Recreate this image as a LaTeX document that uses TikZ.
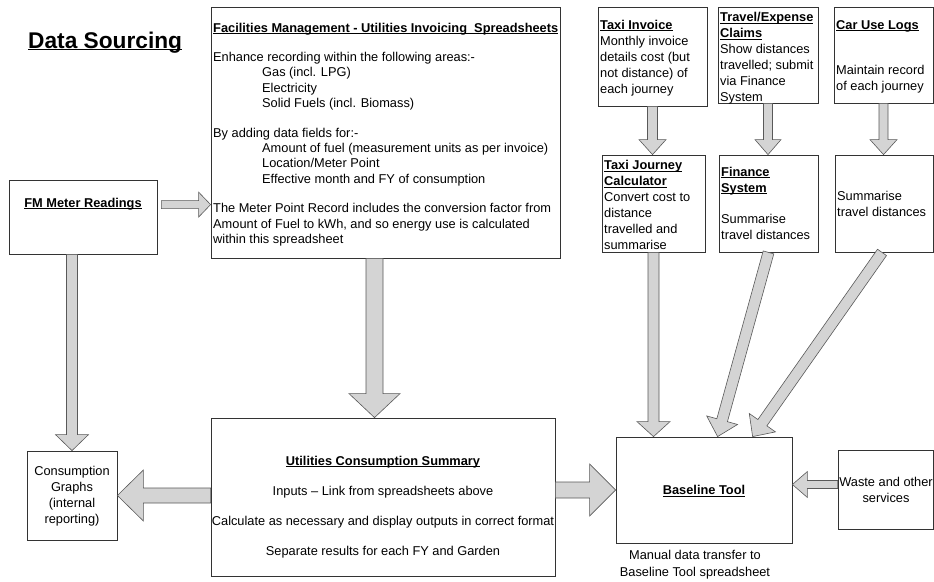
\documentclass[tikz,border=0pt]{standalone}
\usepackage{fontspec}
\setmainfont{Liberation Sans}
\usetikzlibrary{calc,fit}
\newcommand{\uln}[1]{\setbox0\hbox{#1}\rlap{\rule[-1.6pt]{\wd0}{0.8pt}}\box0}
\newcommand{\ubf}[1]{\uln{\textbf{#1}}}
\newcommand{\blockarrow}[5]{%
  \path[arrowfill] let \p1=(#1), \p2=(#2),
    \n1={atan2(\y2-\y1,\x2-\x1)}, \n2={veclen(\x2-\x1,\y2-\y1)} in
    {[shift={(\p1)}, rotate=\n1]
     (0pt,-#3pt) -- ({(\n2-#5)*1pt},-#3pt) -- ({(\n2-#5)*1pt},-#4pt) --
     ({\n2*1pt},0pt) -- ({(\n2-#5)*1pt},#4pt) -- ({(\n2-#5)*1pt},#3pt) --
     (0pt,#3pt) -- cycle};}
\tikzset{
  box/.style={draw=black!80, line width=0.8pt, inner sep=0pt, fill=white},
  arrowfill/.style={draw=black!65, fill=black!17, line width=0.6pt, line join=miter},
  txt/.style={inner sep=0pt, align=left, anchor=north west, font=\fontsize{12.8}{16}\selectfont},
  ctxt/.style={inner sep=0pt, align=center, font=\fontsize{12.8}{15.2}\selectfont},
}
\begin{document}
\begin{tikzpicture}[x=1pt,y=-1pt]
\useasboundingbox[fill=white] (0,0) rectangle (934,581);
% boxes
\node[box, fit={(211,7) (560,258)}] (fm) {};
\node[box, fit={(9,180) (157,254)}] (meter) {};
\node[box, fit={(27,451) (117,540)}] (graphs) {};
\node[box, fit={(211,418) (555,576)}] (ucs) {};
\node[box, fit={(616,437) (792,543)}] (baseline) {};
\node[box, fit={(838,450) (933.5,529)}] (waste) {};
\node[box, fit={(598,7) (707,106)}] (taxi) {};
\node[box, fit={(718,7) (818,103)}] (travel) {};
\node[box, fit={(834,7) (933,103)}] (car) {};
\node[box, fit={(602,155) (705,252)}] (taxicalc) {};
\node[box, fit={(719,155) (818,252)}] (finance) {};
\node[box, fit={(835,155) (933,252)}] (carsum) {};
% texts
\node[inner sep=0pt, anchor=base west, font=\fontsize{22.7}{26}\selectfont] (title) at (28,48)
  {\uln{\textbf{Data Sourcing}}};
\node[txt, font=\fontsize{12.8}{15.4}\selectfont] (fmtext) at (213,22.7) {%
  \ubf{Facilities Management - Utilities Invoicing\ \ Spreadsheets}\\[14pt]
  Enhance recording within the following areas:-\\
  \hspace*{49pt}Gas (incl. LPG)\\
  \hspace*{49pt}Electricity\\
  \hspace*{49pt}Solid Fuels (incl. Biomass)\\[14pt]
  By adding data fields for:-\\
  \hspace*{49pt}Amount of fuel (measurement units as per invoice)\\
  \hspace*{49pt}Location/Meter Point\\
  \hspace*{49pt}Effective month and FY of consumption\\[14pt]
  The Meter Point Record includes the conversion factor from\\
  Amount of Fuel to kWh, and so energy use is calculated\\
  within this spreadsheet};
\node[ctxt] (metertext) at (83,204) {\ubf{FM Meter Readings}};
\node[ctxt, font=\fontsize{12.8}{16}\selectfont] (graphstext) at (72,496)
  {Consumption\\Graphs\\(internal\\reporting)};
\node[ctxt] (ucstext) at (383,507) {%
  \ubf{Utilities Consumption Summary}\\[15pt]
  Inputs -- Link from spreadsheets above\\[15pt]
  Calculate as necessary and display outputs in correct format\\[15pt]
  Separate results for each FY and Garden};
\node[ctxt] (baselinetext) at (704,491) {\ubf{Baseline Tool}};
\node[ctxt, font=\fontsize{12.8}{16}\selectfont] (wastetext) at (886,490) {Waste and other\\services};
\node[ctxt, font=\fontsize{12.8}{17}\selectfont] (manualtext) at (695,565)
  {Manual data transfer to\\Baseline Tool spreadsheet};
\node[txt] (taxitext) at (600,20.2)
  {\ubf{Taxi Invoice}\\Monthly invoice\\details cost (but\\not distance) of\\each journey};
\node[txt] (traveltext) at (720,12.5)
  {\ubf{Travel/Expense}\\\ubf{Claims}\\Show distances\\travelled; submit\\via Finance\\System};
\node[txt] (cartext) at (836,20.2)
  {\ubf{Car Use Logs}\\[29pt]Maintain record\\of each journey};
\node[txt] (taxicalctext) at (604,160.5)
  {\ubf{Taxi Journey}\\\ubf{Calculator}\\Convert cost to\\distance\\travelled and\\summarise};
\node[txt] (financetext) at (721,167.2)
  {\ubf{Finance}\\\ubf{System}\\[15pt]Summarise\\travel distances};
\node[txt] (carsumtext) at (837,191.2)
  {Summarise\\travel distances};
% arrows
\blockarrow{$(meter.north east)+(4,25)$}{$(fm.west |- meter.north)+(0,25)$}{4}{12.5}{12}
\blockarrow{graphs.north |- meter.south}{graphs.north}{5.5}{16.5}{16}
\blockarrow{$(fm.south)+(-11,0)$}{$(fm.south |- ucs.north)+(-11,0)$}{8.5}{25.5}{24}
\blockarrow{ucs.west |- graphs.east}{graphs.east}{7.5}{25.5}{26}
\blockarrow{ucs.east |- baseline.west}{baseline.west}{8}{26}{26}
\blockarrow{$(waste.west)+(0,-5)$}{$(baseline.east |- waste.west)+(0,-5)$}{4}{13}{15}
\blockarrow{taxi.south}{taxi.south |- taxicalc.north}{5}{13.5}{15}
\blockarrow{travel.south}{travel.south |- finance.north}{4.5}{13}{15}
\blockarrow{car.south}{car.south |- carsum.north}{4.5}{13.5}{15}
\blockarrow{taxicalc.south}{taxicalc.south |- baseline.north}{5.5}{16.5}{15}
\blockarrow{finance.south}{$(baseline.north west)+(102,0)$}{5.5}{16}{17}
\blockarrow{$(carsum.south)+(-2,0)$}{$(baseline.north west)+(137,0)$}{5.5}{16}{17}
\end{tikzpicture}
\end{document}
